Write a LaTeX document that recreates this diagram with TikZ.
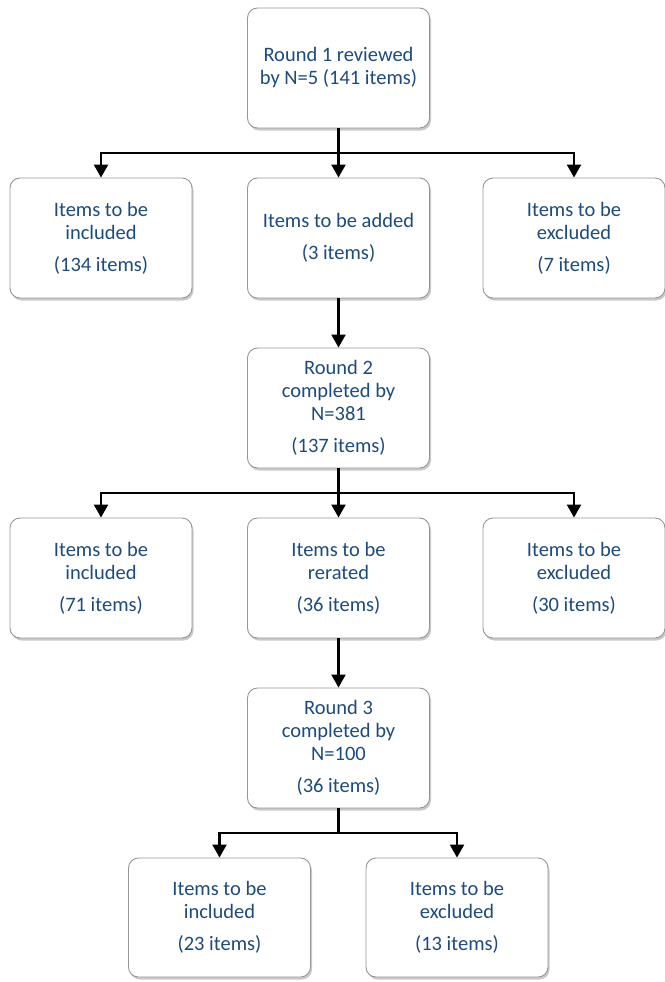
\documentclass[tikz,border=0pt]{standalone}
\usepackage{fontspec}
\setmainfont{Carlito}
\usetikzlibrary{arrows.meta,shadows}
\definecolor{txt}{RGB}{30,75,125}
\definecolor{bord}{RGB}{150,150,150}
\begin{document}
\begin{tikzpicture}[x=1pt,y=-1pt,
  box/.style={draw=bord, line width=0.9pt, rounded corners=10pt, fill=white,
    minimum width=182pt, minimum height=120pt, align=center, text=txt,
    font=\fontsize{20.5}{23}\selectfont, inner sep=0pt,
    drop shadow={shadow xshift=1.5pt, shadow yshift=-2.5pt, opacity=0.35, fill=black!60}},
  arr/.style={line width=2.3pt, -{Triangle[width=14pt,length=13pt]}},
  ln/.style={line width=2.3pt}]
\useasboundingbox (0,0) rectangle (664,982);
\node[box] (top) at (338.5,68) {Round 1 reviewed\\by N=5 (141 items)};
\node[box] (inc1) at (101,238) {Items to be\\included\\[9pt](134 items)};
\node[box] (add) at (338.5,238) {Items to be added\\[9pt](3 items)};
\node[box] (exc1) at (574,238) {Items to be\\excluded\\[9pt](7 items)};
\node[box] (r2) at (338.5,408) {Round 2\\completed by\\N=381\\[9pt](137 items)};
\node[box] (inc2) at (101,578) {Items to be\\included\\[9pt](71 items)};
\node[box] (rer) at (338.5,578) {Items to be\\rerated\\[9pt](36 items)};
\node[box] (exc2) at (574,578) {Items to be\\excluded\\[9pt](30 items)};
\node[box] (r3) at (338.5,748) {Round 3\\completed by\\N=100\\[9pt](36 items)};
\node[box, minimum height=119pt] (inc3) at (219.5,917.5) {Items to be\\included\\[9pt](23 items)};
\node[box, minimum height=119pt] (exc3) at (457,917.5) {Items to be\\excluded\\[9pt](13 items)};
\coordinate (j1) at (338.5,153);
\coordinate (j2) at (338.5,493);
\coordinate (j3) at (338.5,833);
\draw[ln] (top.south) -- (j1);
\draw[arr] (j1) -| (inc1.north);
\draw[arr] (j1) -- (add.north);
\draw[arr] (j1) -| (exc1.north);
\draw[arr] (add.south) -- (r2.north);
\draw[ln] (r2.south) -- (j2);
\draw[arr] (j2) -| (inc2.north);
\draw[arr] (j2) -- (rer.north);
\draw[arr] (j2) -| (exc2.north);
\draw[arr] (rer.south) -- (r3.north);
\draw[ln] (r3.south) -- (j3);
\draw[arr] (j3) -| (inc3.north);
\draw[arr] (j3) -| (exc3.north);
\end{tikzpicture}
\end{document}
